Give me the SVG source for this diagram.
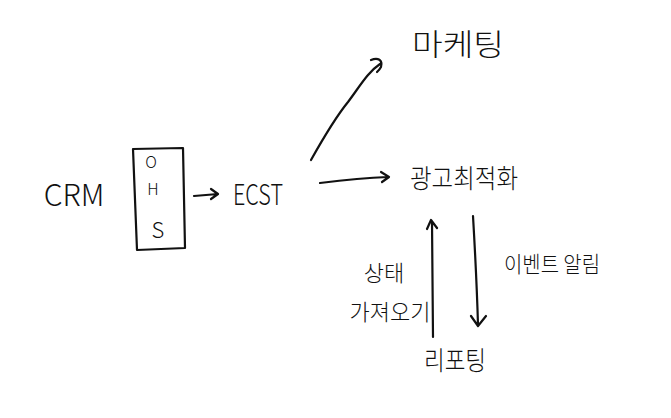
<svg xmlns="http://www.w3.org/2000/svg" width="671" height="418" viewBox="0 0 671 418">
<style>
.t{font-family:"Noto Sans CJK KR","Liberation Sans",sans-serif;fill:#111;font-weight:300}
.l{fill:none;stroke:#111;stroke-width:2.2;stroke-linecap:round;stroke-linejoin:round}
</style>
<rect width="671" height="418" fill="#fff"/>
<g id="crm"><text class="t" x="74" y="206" font-size="30" text-anchor="middle">CRM</text></g>
<g id="ohs">
<path class="l" d="M133,149 L183,148 L185,248 L137,250 Z"/>
<text class="t" x="151" y="168" font-size="16" text-anchor="middle">O</text>
<text class="t" x="153" y="195" font-size="16" text-anchor="middle">H</text>
<text class="t" x="158" y="238" font-size="22" text-anchor="middle">S</text>
</g>
<g id="ecst"><text class="t" x="258" y="205" font-size="28" text-anchor="middle" textLength="50" lengthAdjust="spacingAndGlyphs">ECST</text></g>
<g id="marketing"><text class="t" x="458" y="55" font-size="30" text-anchor="middle" textLength="92" lengthAdjust="spacingAndGlyphs">마케팅</text></g>
<g id="adopt"><text class="t" x="464" y="188" font-size="26" text-anchor="middle" textLength="108" lengthAdjust="spacingAndGlyphs">광고최적화</text></g>
<g id="reporting"><text class="t" x="455" y="370" font-size="26" text-anchor="middle" textLength="62" lengthAdjust="spacingAndGlyphs">리포팅</text></g>
<g id="labels">
<text class="t" x="384" y="281" font-size="22" text-anchor="middle">상태</text>
<text class="t" x="390" y="320" font-size="22" text-anchor="middle">가져오기</text>
<text class="t" x="552" y="272" font-size="22" text-anchor="middle" textLength="96" lengthAdjust="spacingAndGlyphs">이벤트 알림</text>
</g>
<g id="connectors">
<path class="l" d="M194,196 L218,194 M211,189 L218,194 L211,199"/>
<path class="l" d="M311,160 C325,135 335,118 348,102 C360,86 368,72 380,64 M371,60 C378,57 383,60 381,67 C380,69 378,71 377,72"/>
<path class="l" d="M320,183 C345,180 365,178 388,177 M381,172 L389,177 L382,182"/>
<path class="l" d="M433,337 L432,222 M427,229 L431,220 L437,228"/>
<path class="l" d="M473,216 C475,250 477,290 478,325 M471,316 L478,326 L486,316"/>
</g>
</svg>
